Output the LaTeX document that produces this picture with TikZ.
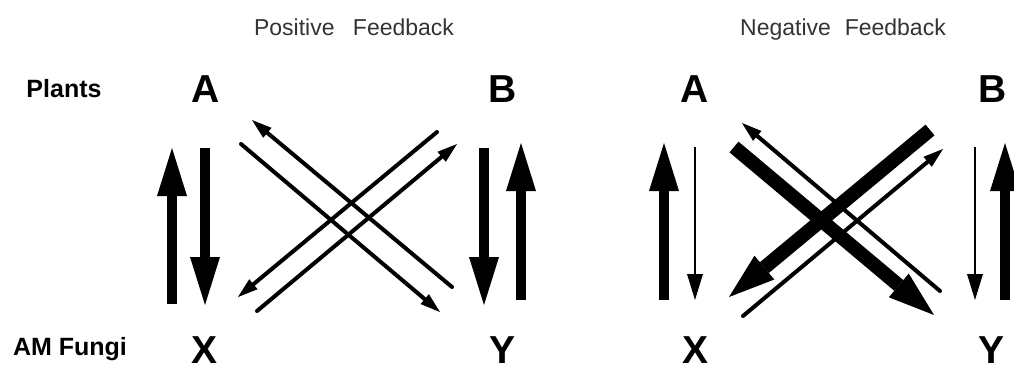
\documentclass[tikz,border=0pt]{standalone}
\usepackage{fontspec}
\setmainfont{Liberation Sans}
\usetikzlibrary{arrows.meta}
\begin{document}
\begin{tikzpicture}[x=1pt,y=-1pt,
  lbl/.style={font=\fontsize{39}{39}\selectfont\bfseries, inner sep=0pt, anchor=base},
  side/.style={font=\fontsize{25}{25}\selectfont\bfseries, inner sep=0pt, anchor=base},
  ttl/.style={font=\fontsize{23}{23}\selectfont, text=black!80, inner sep=0pt, anchor=base},
  bigarr/.style={line width=10.5pt, -{Triangle[width=30pt,length=48pt,line width=0pt]}},
  thinv/.style={line width=2.5pt, -{Triangle[width=16pt,length=26pt,line width=0pt]}},
  diag/.style={line width=4pt, line cap=round, -{Triangle[width=13pt,length=20pt,line width=0pt]}},
  thickdiag/.style={line width=14pt, -{Triangle[width=31pt,length=46pt,line width=0pt]}},
]
\fill[white] (0,0) rectangle (1014,370);
\useasboundingbox (0,0) rectangle (1014,370);

% titles and row labels
\node[ttl] (tpos) at (354,35) {Positive\hspace{0.8em}Feedback};
\node[ttl] (tneg) at (843,35) {Negative\hspace{0.6em}Feedback};
\node[side] (plants) at (64,97) {Plants};
\node[side] (fungi) at (70,355) {AM Fungi};

% letters
\node[lbl] (A1) at (206,102) {A};
\node[lbl] (B1) at (503,102) {B};
\node[lbl] (X1) at (205,363) {X};
\node[lbl] (Y1) at (502,363) {Y};
\node[lbl] (A2) at (695,102) {A};
\node[lbl] (B2) at (993,102) {B};
\node[lbl] (X2) at (695,363) {X};
\node[lbl] (Y2) at (991,363) {Y};

% ---------- positive feedback ----------
\coordinate (pAXu1) at (172,304); \coordinate (pAXu2) at (172,148);
\coordinate (pAXd1) at (205,148); \coordinate (pAXd2) at (205,305);
\coordinate (pBYd1) at (484,148); \coordinate (pBYd2) at (484,305);
\coordinate (pBYu1) at (521,300); \coordinate (pBYu2) at (521,143);
\coordinate (pL1a) at (452,287); \coordinate (pL1b) at (252,120);
\coordinate (pL2a) at (241,144); \coordinate (pL2b) at (440,312);
\coordinate (pL3a) at (437,132); \coordinate (pL3b) at (238,297);
\coordinate (pL4a) at (257,311); \coordinate (pL4b) at (457,144);

\draw[bigarr] (pAXu1) -- (pAXu2);
\draw[bigarr] (pAXd1) -- (pAXd2);
\draw[bigarr] (pBYd1) -- (pBYd2);
\draw[bigarr] (pBYu1) -- (pBYu2);
\draw[diag] (pL1a) -- (pL1b);
\draw[diag] (pL2a) -- (pL2b);
\draw[diag] (pL3a) -- (pL3b);
\draw[diag] (pL4a) -- (pL4b);

% ---------- negative feedback ----------
\coordinate (nAXu1) at (664,300); \coordinate (nAXu2) at (664,143);
\coordinate (nAXd1) at (695,147); \coordinate (nAXd2) at (695,300);
\coordinate (nBYd1) at (975,147); \coordinate (nBYd2) at (975,300);
\coordinate (nBYu1) at (1005,300); \coordinate (nBYu2) at (1005,143);
\coordinate (nT1a) at (734,147); \coordinate (nT1b) at (934,315);
\coordinate (nT2a) at (930,130); \coordinate (nT2b) at (729,297);
\coordinate (nt1a) at (940,291); \coordinate (nt1b) at (742,123);
\coordinate (nt2a) at (743,316); \coordinate (nt2b) at (943,149);

\draw[bigarr] (nAXu1) -- (nAXu2);
\draw[thinv] (nAXd1) -- (nAXd2);
\draw[thinv] (nBYd1) -- (nBYd2);
\draw[bigarr] (nBYu1) -- (nBYu2);
\draw[diag] (nt1a) -- (nt1b);
\draw[diag] (nt2a) -- (nt2b);
\draw[thickdiag] (nT1a) -- (nT1b);
\draw[thickdiag] (nT2a) -- (nT2b);
\end{tikzpicture}
\end{document}
